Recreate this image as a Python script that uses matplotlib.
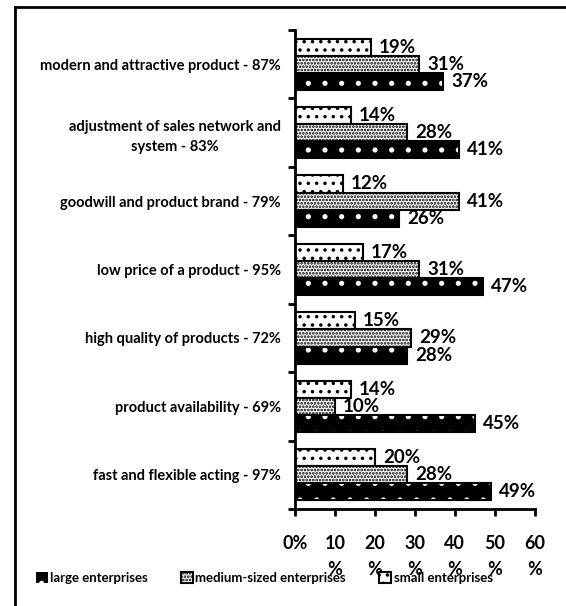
import matplotlib
matplotlib.use('Agg')
import matplotlib.pyplot as plt
from matplotlib.lines import Line2D
import numpy as np

plt.rcParams['font.family'] = ['Lato', 'DejaVu Sans']
plt.rcParams['font.weight'] = 'bold'
plt.rcParams['hatch.linewidth'] = 1.3

# Factors, top to bottom, with share (%) of each enterprise size
categories = ['modern and attractive product - 87%',
              'adjustment of sales network and\nsystem - 83%',
              'goodwill and product brand - 79%',
              'low price of a product - 95%',
              'high quality of products - 72%',
              'product availability - 69%',
              'fast and flexible acting - 97%']
large = [37, 41, 26, 47, 28, 45, 49]
medium = [31, 28, 41, 31, 29, 10, 28]
small = [19, 14, 12, 17, 15, 14, 20]
x_ticks = [0, 10, 20, 30, 40, 50, 60]
x_tick_labels = ['0%', '10\n%', '20\n%', '30\n%', '40\n%', '50\n%', '60\n%']

fig = plt.figure(figsize=(5.66, 6.06), dpi=100)
ax = fig.add_axes([0.521, 0.160, 0.424, 0.7905])

y = np.arange(len(categories))
h = 0.25

# small enterprises - sparse dots
b_small = ax.barh(y - h, small, height=h, color='white', edgecolor='black',
                  hatch='..', linewidth=1.5, label='small enterprises')
# medium-sized enterprises - dense dots
b_med = ax.barh(y, medium, height=h, color='white', edgecolor='black',
                hatch='.....', linewidth=1.5, label='medium-sized enterprises')
# large enterprises - black with white dots
b_large = ax.barh(y + h, large, height=h, color='black', edgecolor='white',
                  hatch='.', linewidth=0, label='large enterprises')
ax.barh(y + h, large, height=h, color='none', edgecolor='black', linewidth=1.5)

for bars, vals in ((b_small, small), (b_med, medium), (b_large, large)):
    for b, v in zip(bars, vals):
        ax.annotate('%d%%' % v, (v, b.get_y() + b.get_height() / 2),
                    xytext=(6, 0), textcoords='offset points',
                    va='center', ha='left', fontsize=13.5, fontweight='bold')

ax.set_ylim(len(categories) - 0.5, -0.5)
ax.set_xlim(0, 60)
ax.set_xticks(x_ticks)
ax.set_xticklabels(x_tick_labels, fontsize=13, fontweight='bold',
                   linespacing=1.6, va='top')
ax.set_yticks(np.arange(len(categories) + 1) - 0.5)
ax.set_yticklabels([])
ax.set_yticks(y, minor=True)
ax.set_yticklabels(categories, minor=True, fontsize=10.5, fontweight='bold',
                   multialignment='center', linespacing=1.5)
ax.tick_params(axis='y', which='minor', length=0, pad=10)
ax.tick_params(axis='y', which='major', length=5, width=2)
ax.tick_params(axis='x', length=5, width=2, pad=14)

for s in ('top', 'right'):
    ax.spines[s].set_visible(False)
for s in ('left', 'bottom'):
    ax.spines[s].set_linewidth(2)

fig.legend(handles=[b_large, b_med, b_small], loc='center left',
           bbox_to_anchor=(0.042, 0.046), ncol=3, frameon=False,
           handlelength=0.9, handleheight=0.9,
           handletextpad=0.2, columnspacing=2.5,
           prop={'weight': 'bold', 'size': 9.5})

# outer frame, left and top edges
fig.add_artist(Line2D([0.026, 0.026], [0, 0.988], transform=fig.transFigure,
                      color='black', linewidth=2))
fig.add_artist(Line2D([0.026, 1.0], [0.988, 0.988], transform=fig.transFigure,
                      color='black', linewidth=2))

fig.savefig('out.png', dpi=100)
